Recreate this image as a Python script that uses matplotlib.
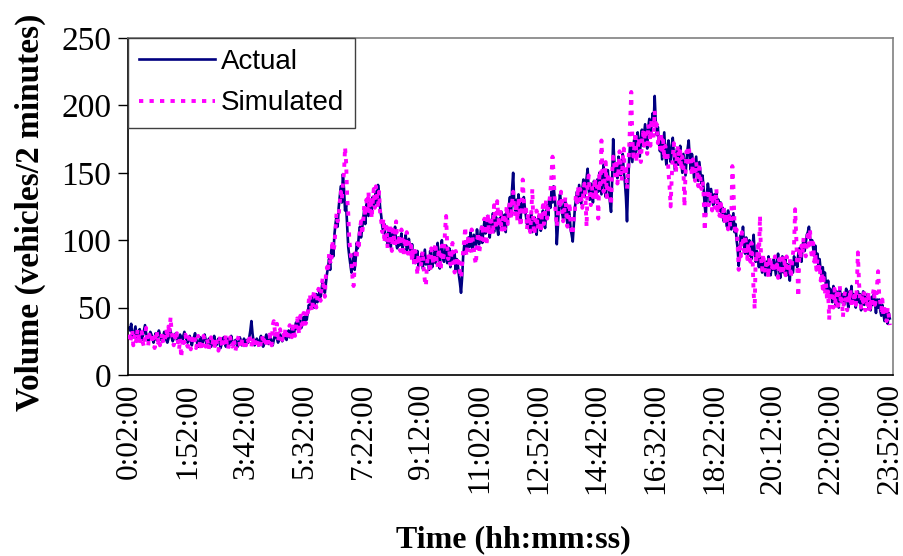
import matplotlib
matplotlib.use("Agg")
import matplotlib.pyplot as plt
import numpy as np

# 2-minute traffic volumes over one day, 0:02:00 through 23:52:00
actual = [
    35,33,38,30,28,32,36,29,27,31,34, 30,26,29,33,37,31,28,25,29,32,30,
    27,24,28,31,26,29,33,30,27,25,28, 32,29,26,24,27,30,33,28,25,27,29,
    31,26,24,28,30,27,25,29,32,28,26,
    24,27,29,25,22,26,28,31,27,24,21, 25,28,26,23,27,30,26,22,24,27,25,
    21,23,26,29,25,22,24,27,24,20,23, 26,28,24,21,25,27,23,26,29,25,22,
    24,26,23,21,25,28,26,22,24,27,25,
    23,26,24,28,33,40,31,25,22,24,27, 25,22,26,29,24,21,23,27,30,26,23,
    25,28,24,22,26,29,31,27,24,26,30, 28,25,27,31,29,26,30,33,28,31,35,
    33,30,36,39,34,37,41,38,35,40,43,
    39,44,41,47,52,49,55,58,53,50,56, 60,54,57,62,58,64,70,66,61,68,75,
    80,86,78,92,96,88,104,112,118,110,124, 132,140,128,149,138,122,126,110,95,88,82,
    76,84,90,78,86,98,94,104,110,102,108,
    116,122,112,126,130,118,124,128,121,132,125, 130,136,127,141,134,124,118,110,106,112,100,
    104,97,108,101,95,106,99,103,110,98,94, 102,96,100,105,93,99,97,104,92,96,101,
    94,89,97,86,90,83,88,92,81,87,84,
    90,79,86,93,82,88,84,78,92,85,80, 88,95,83,90,98,86,79,92,100,87,84,
    91,96,83,89,94,80,87,92,85,90,78, 86,82,74,68,61,72,88,96,90,99,93,
    102,95,106,98,92,104,100,96,108,101,97,
    103,110,98,107,114,105,112,118,108,102,115, 110,120,106,113,117,109,104,116,112,121,108,
    114,119,106,122,115,126,132,118,138,150,128, 122,130,118,134,126,115,128,121,132,124,118,
    112,118,108,115,121,106,112,117,110,104,114,
    118,111,107,116,122,113,109,120,126,118,131, 124,136,128,140,132,122,97,110,126,134,128,
    120,116,126,130,118,112,124,119,108,104,99, 112,124,130,136,128,141,134,127,138,145,132,
    140,146,153,138,130,142,136,128,144,139,133,
    145,136,150,142,134,148,156,140,132,146,152, 138,128,121,144,175,160,150,156,146,162,154,
    148,158,164,150,143,132,114,140,160,172,165, 158,170,176,163,168,180,172,162,175,182,170,
    178,186,174,168,184,190,176,182,194,185,207,
    188,178,184,172,166,176,160,170,180,164,156, 168,174,162,158,170,176,164,152,160,168,156,
    162,170,158,150,164,156,148,160,168,174,160, 152,164,158,146,154,162,150,144,158,150,142,
    148,138,126,118,134,142,136,128,138,132,126,
    134,128,136,126,130,122,128,118,124,114,120, 116,110,122,112,118,108,114,120,106,112,100,
    94,81,92,104,98,110,96,90,102,94,88, 100,92,86,96,104,90,84,92,86,80,88,
    82,76,86,80,74,84,78,88,80,74,82,
    78,86,80,74,84,90,78,72,82,88,76, 80,86,74,82,78,70,84,80,76,88,82,
    86,80,90,94,88,84,96,100,92,98,104, 106,110,102,98,100,94,88,96,84,90,80,
    86,78,72,80,70,76,66,62,70,58,64,
    60,54,66,58,52,62,56,50,64,58,54, 60,52,58,64,56,50,62,58,66,54,60,
    56,50,58,62,54,60,48,56,62,52,58, 54,60,50,56,48,58,52,60,54,46,56,
    50,56,48,44,52,46,40,48,44,38,46,42,
]

simulated = [
    30,24,28,33,22,27,31,25,34,29,23, 27,32,24,21,28,35,26,22,30,27,24,
    31,26,20,29,33,24,28,22,26,31,25, 23,28,34,27,36,30,43,32,26,22,29,
    25,31,24,19,27,13,22,28,24,30,25,
    21,28,24,19,27,23,30,26,20,24,29, 22,26,18,25,29,23,21,27,24,19,26,
    28,22,25,20,24,27,21,18,25,29,23, 20,26,24,30,22,19,25,28,23,21,27,
    24,18,22,26,29,23,20,25,27,22,26,
    22,27,25,30,24,21,28,23,26,20,24, 27,22,19,25,29,23,26,21,25,28,24,
    30,26,22,37,40,33,28,38,25,30,34, 29,26,32,27,35,30,26,34,37,31,28,
    36,32,29,38,42,35,30,44,39,34,46,
    42,38,48,45,56,60,51,47,58,63,54, 50,57,64,59,55,66,72,63,58,74,80,
    76,90,84,82,100,92,96,108,120,114,118, 128,136,130,142,150,169,158,132,120,100,92,
    84,72,66,80,92,88,100,96,108,114,104,
    112,126,118,130,122,136,120,132,116,128,138, 124,140,132,126,136,120,114,106,116,98,108,
    110,94,104,112,98,92,108,102,96,114,100, 96,104,92,108,100,88,102,94,106,90,98,
    90,96,84,94,80,92,86,74,90,84,80,
    86,92,78,70,66,82,90,84,76,94,88, 82,92,98,86,80,94,88,78,96,84,90,
    108,118,96,86,92,82,90,98,84,76,92, 88,80,84,76,72,82,92,100,110,88,96,
    104,98,92,108,100,94,86,82,98,106,90,
    96,106,112,100,116,108,96,120,110,104,118, 112,104,126,116,108,129,118,110,124,106,114,
    120,108,116,126,112,122,130,116,128,136,124, 118,128,114,132,122,110,126,145,130,118,126,
    108,120,114,106,118,138,112,104,116,122,108,
    114,122,106,118,126,112,120,130,116,124,128, 136,148,162,150,130,120,110,118,130,126,136,
    124,114,120,132,122,110,118,128,112,106,104, 116,122,134,128,140,126,138,132,124,136,142,
    130,110,140,148,134,126,140,132,138,146,130,
    140,116,148,138,174,150,136,144,158,132,150, 144,134,126,150,162,156,148,160,142,152,166,
    154,144,160,168,148,156,138,150,168,190,210, 176,162,170,180,158,166,176,168,158,172,180,
    170,182,176,164,186,180,170,190,184,176,196,
    182,186,172,178,168,180,164,174,160,170,158, 166,150,140,125,146,162,172,160,150,164,170,
    158,166,152,162,154,125,150,166,158,170,162, 156,148,160,152,144,158,150,140,154,146,138,
    144,134,107,120,130,138,126,136,130,122,134,
    130,124,138,122,128,118,130,120,116,126,112, 120,114,108,118,110,116,155,140,112,104,108,
    96,78,98,88,106,100,92,104,96,86,98, 92,84,98,88,61,49,90,84,96,88,118,
    86,78,90,82,76,86,80,72,88,84,78,
    84,76,88,78,82,72,86,80,74,90,78, 84,74,88,80,76,86,72,82,90,96,123,
    104,80,58,92,86,96,90,102,94,88,100, 104,96,108,92,86,98,84,90,78,86,76,
    82,70,76,64,72,60,68,56,62,41,58,
    62,56,50,64,54,60,48,58,66,52,56, 43,58,62,52,48,60,54,64,50,58,56,
    62,52,66,91,70,56,50,60,54,62,48, 58,52,62,46,56,50,60,64,52,56,66,
    77,60,54,48,56,44,52,46,40,50,44,37,
]

tick_labels = ["0:02:00", "1:52:00", "3:42:00", "5:32:00", "7:22:00", "9:12:00",
               "11:02:00", "12:52:00", "14:42:00", "16:32:00", "18:22:00",
               "20:12:00", "22:02:00", "23:52:00"]
tick_step = 55  # one label every 55 two-minute intervals

serif = "Liberation Serif"
sans = "Liberation Sans"

fig = plt.figure(figsize=(9.04, 5.56), dpi=100)
W, H = 904, 556
left, right, top, bottom = 128, 893, 38, 375
ax = fig.add_axes([left / W, 1 - bottom / H, (right - left) / W, (bottom - top) / H])

x = np.arange(len(actual))
ax.plot(x, actual, color="#000080", lw=1.9, label="Actual", zorder=2)
ax.plot(np.arange(len(simulated)), simulated, color="#FF00FF", lw=2.8,
        linestyle=(0, (1.1, 1.6)), label="Simulated", zorder=3)

ax.set_xlim(-1, len(actual) + 2)
ax.set_ylim(0, 250)
ax.set_yticks([0, 50, 100, 150, 200, 250])
ax.set_xticks(np.arange(len(tick_labels)) * tick_step)
ax.set_xticklabels(tick_labels, rotation=90, fontfamily=serif, fontsize=22.5)
for lab in ax.get_yticklabels():
    lab.set_fontfamily(serif)
    lab.set_fontsize(24)
ax.tick_params(axis="y", direction="out", length=7, width=1, pad=5, colors="black")
ax.tick_params(axis="x", direction="out", length=0, pad=6)

for side in ("left", "bottom"):
    ax.spines[side].set_color("black")
    ax.spines[side].set_linewidth(1.2)
for side in ("top", "right"):
    ax.spines[side].set_color("#808080")
    ax.spines[side].set_linewidth(1.2)

leg = ax.legend(loc="upper left", bbox_to_anchor=(0.0, 1.0), borderaxespad=0.0,
                prop={"family": sans, "size": 20}, handlelength=2.75,
                handletextpad=0.2, labelspacing=0.55, borderpad=0.4,
                fancybox=False, framealpha=1.0, edgecolor="#404040")
leg.get_frame().set_linewidth(1.0)

fig.text(30 / W, 1 - 212 / H, "Volume (vehicles/2 minutes)", rotation=90,
         ha="center", va="center", fontfamily=serif, fontweight="bold", fontsize=24)
fig.text(513 / W, 1 - 540 / H, "Time (hh:mm:ss)", ha="center", va="center",
         fontfamily=serif, fontweight="bold", fontsize=23)

fig.savefig("out.png", dpi=100, facecolor="white")
